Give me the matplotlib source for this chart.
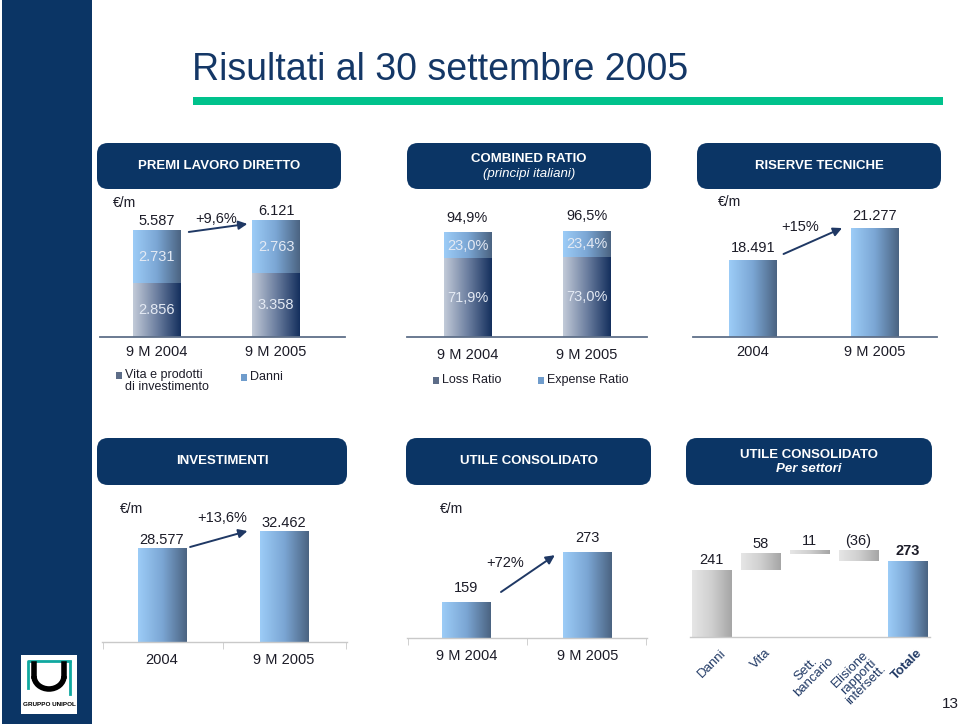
import numpy as np
import matplotlib
matplotlib.use('Agg')
import matplotlib.pyplot as plt
from matplotlib.colors import LinearSegmentedColormap
from matplotlib.patches import Rectangle, FancyBboxPatch, Arc

plt.rcParams['font.family'] = ['Liberation Sans', 'DejaVu Sans']

# ---- data ----
premi_labels = ['9 M 2004', '9 M 2005']
premi_vita = [2856, 3358]
premi_danni = [2731, 2763]
premi_total = [5587, 6121]
premi_growth = '+9,6%'

cr_labels = ['9 M 2004', '9 M 2005']
cr_loss = [71.9, 73.0]
cr_expense = [23.0, 23.4]
cr_total = [94.9, 96.5]

ris_labels = ['2004', '9 M 2005']
ris_values = [18491, 21277]
ris_growth = '+15%'

inv_labels = ['2004', '9 M 2005']
inv_values = [28577, 32462]
inv_growth = '+13,6%'

utile_labels = ['9 M 2004', '9 M 2005']
utile_values = [159, 273]
utile_growth = '+72%'

sett_labels = ['Danni', 'Vita', 'Sett.\nbancario', 'Elisione\nrapporti\nintersett.', 'Totale']
sett_values = [241, 58, 11, -36]
sett_total = 273

# ---- styling ----
W, H = 960, 724
NAVY = '#0b3565'
TXT = '#1c1c28'
ARROW = '#1f3864'
cm_blue = LinearSegmentedColormap.from_list('blue', ['#9cccf7', '#7ba6d4', '#4b6482'])
cm_navy = LinearSegmentedColormap.from_list('navy', ['#c2cad8', '#6c7fa0', '#15305e'])
cm_gray = LinearSegmentedColormap.from_list('gray', ['#e6e6e6', '#cfcfcf', '#a6a6a6'])


def it_int(v):
    return f'{v:,}'.replace(',', '.')


def it_pct(v):
    return f'{v:.1f}%'.replace('.', ',')


fig = plt.figure(figsize=(9.6, 7.24), dpi=100)

# slide overlay in pixel coordinates
ov = fig.add_axes([0, 0, 1, 1])
ov.set_xlim(0, W)
ov.set_ylim(H, 0)
ov.axis('off')

ov.add_patch(Rectangle((2, 0), 90, H, fc=NAVY, ec='none'))
ov.text(192, 70, 'Risultati al 30 settembre 2005', fontsize=27,
        color='#143766', va='center', ha='left')
ov.add_patch(Rectangle((193, 97), 750, 8, fc='#00c28c', ec='none'))

headers = [
    (97, 143, 244, 46, 'PREMI LAVORO DIRETTO', None),
    (407, 143, 244, 46, 'COMBINED RATIO', '(principi italiani)'),
    (697, 143, 244, 46, 'RISERVE TECNICHE', None),
    (97, 438, 250, 47, 'INVESTIMENTI', None),
    (406, 438, 245, 47, 'UTILE CONSOLIDATO', None),
    (686, 438, 246, 47, 'UTILE CONSOLIDATO', 'Per settori'),
]
for x, y, w, h, t1, t2 in headers:
    ov.add_patch(FancyBboxPatch((x, y), w, h, boxstyle='round,pad=0,rounding_size=11',
                                fc=NAVY, ec='none'))
    if t2 is None:
        ov.text(x + w / 2, y + h / 2, t1, color='white', fontsize=9.5, weight='bold',
                ha='center', va='center')
    else:
        ov.text(x + w / 2, y + h / 2 - 7, t1, color='white', fontsize=9.5, weight='bold',
                ha='center', va='center')
        ov.text(x + w / 2, y + h / 2 + 8, t2, color='white', fontsize=9.5, style='italic',
                weight='bold' if t2 == 'Per settori' else 'normal', ha='center', va='center')

for x, y in [(113, 203), (718, 202), (120, 509), (440, 509)]:
    ov.text(x, y, '€/m', fontsize=10, color=TXT, va='center', ha='left')

# legends
leg = [(116, 375, '#5d6d88', 'Vita e prodotti\ndi investimento'),
       (241, 377, '#6f9ccc', 'Danni'),
       (433, 380, '#5d6d88', 'Loss Ratio'),
       (538, 380, '#6f9ccc', 'Expense Ratio')]
for x, y, c, t in leg:
    ov.add_patch(Rectangle((x, y - 3.5), 6, 7, fc=c, ec='none'))
    ov.text(x + 9, y if '\n' not in t else y + 6, t, fontsize=9, color=TXT,
            va='center', ha='left', linespacing=0.95)

ov.text(950, 704, '13', fontsize=11, color=TXT, ha='center', va='center')

# logo
ov.add_patch(Rectangle((21, 655), 56, 59, fc='white', ec='none'))
ov.plot([28, 28, 70], [688, 661, 661], color='#10a8a0', lw=2)
ov.plot([70, 70], [662, 694], color='#10a8a0', lw=2)
ov.add_patch(Arc((49, 676), 30, 26, theta1=0, theta2=180, color='black', lw=4))
ov.plot([34, 34], [664, 676], color='black', lw=4)
ov.plot([64, 64], [664, 676], color='black', lw=4)
ov.text(49, 705, 'GRUPPO UNIPOL', fontsize=4.6, weight='bold', ha='center', va='center')


def grad_bar(ax, x, bottom, height, width, cmap):
    g = np.linspace(0, 1, 100).reshape(1, -1)
    ax.imshow(g, extent=(x - width / 2, x + width / 2, bottom, bottom + height),
              cmap=cmap, aspect='auto', origin='lower', zorder=2, interpolation='bilinear')


def chart_ax(x0, x1, ybase, ytop, xlim, ylim, light=False):
    ax = fig.add_axes([x0 / W, 1 - ybase / H, (x1 - x0) / W, (ybase - ytop) / H])
    ax.patch.set_visible(False)
    for s in ['top', 'right', 'left']:
        ax.spines[s].set_visible(False)
    ax.set_yticks([])
    ax.set_xlim(xlim)
    ax.set_ylim(ylim)
    if light:
        ax.spines['bottom'].set_color('#c9c9c9')
        ax.spines['bottom'].set_linewidth(1)
        ax.set_xticks([xlim[0] + 0.01, 0.5, xlim[1] - 0.01], minor=True)
        ax.tick_params(axis='x', which='minor', length=5, color='#c9c9c9')
    else:
        ax.spines['bottom'].set_color('#5f7089')
        ax.spines['bottom'].set_linewidth(1.3)
    ax.tick_params(axis='x', which='major', length=0, labelsize=10.5, labelcolor=TXT)
    return ax


def arrow(ax, p0, p1):
    ax.annotate('', xy=p1, xytext=p0,
                arrowprops=dict(arrowstyle='-|>', color=ARROW, lw=1.4, mutation_scale=13,
                                shrinkA=0, shrinkB=0))


# ---- PREMI LAVORO DIRETTO ----
ax1 = chart_ax(100, 345, 337, 195, (-0.473, 1.577), (0, 7455))
bw = 0.40
for i in range(2):
    grad_bar(ax1, i, 0, premi_vita[i], bw, cm_navy)
    grad_bar(ax1, i, premi_vita[i], premi_danni[i], bw, cm_blue)
    ax1.text(i, premi_vita[i] / 2, it_int(premi_vita[i]), color='#e4eaf4', fontsize=10.5,
             ha='center', va='center', zorder=3)
    ax1.text(i, premi_vita[i] + premi_danni[i] / 2, it_int(premi_danni[i]), color='#e4eaf4',
             fontsize=10.5, ha='center', va='center', zorder=3)
    ax1.annotate(it_int(premi_total[i]), (i, premi_total[i]), xytext=(0, 2),
                 textcoords='offset points', ha='center', va='bottom', fontsize=10.5, color=TXT)
ax1.set_xticks(range(2), premi_labels)
ax1.tick_params(axis='x', pad=6)
arrow(ax1, (0.27, premi_total[0] * 0.987), (0.76, premi_total[1] * 0.97))
ax1.text(0.5, premi_total[1] * 1.012, premi_growth, fontsize=10.5, color=TXT,
         ha='center', va='center')

# ---- COMBINED RATIO ----
ax2 = chart_ax(407, 647, 337, 195, (-0.506, 1.502), (0, 129.6))
for i in range(2):
    grad_bar(ax2, i, 0, cr_loss[i], bw, cm_navy)
    grad_bar(ax2, i, cr_loss[i], cr_expense[i], bw, cm_blue)
    ax2.text(i, cr_loss[i] / 2, it_pct(cr_loss[i]), color='#e4eaf4', fontsize=10.5,
             ha='center', va='center', zorder=3)
    ax2.text(i, cr_loss[i] + cr_expense[i] / 2, it_pct(cr_expense[i]), color='#e4eaf4',
             fontsize=10.5, ha='center', va='center', zorder=3)
    ax2.annotate(it_pct(cr_total[i]), (i, cr_loss[i] + cr_expense[i]), xytext=(0, 6),
                 textcoords='offset points', ha='center', va='bottom', fontsize=10.5, color=TXT)
ax2.set_xticks(range(2), cr_labels)
ax2.tick_params(axis='x', pad=8)

# ---- RISERVE TECNICHE ----
ax3 = chart_ax(693, 937, 337, 195, (-0.492, 1.508), (11800, 24154))
for i in range(2):
    grad_bar(ax3, i, 11800, ris_values[i] - 11800, 0.39, cm_blue)
    ax3.annotate(it_int(ris_values[i]), (i, ris_values[i]), xytext=(0, 4),
                 textcoords='offset points', ha='center', va='bottom', fontsize=10.5, color=TXT)
ax3.set_xticks(range(2), ris_labels)
ax3.tick_params(axis='x', pad=6)
arrow(ax3, (0.25, ris_values[0] + 530), (0.73, ris_values[1]))
ax3.text(0.385, ris_values[1] + 100, ris_growth, fontsize=10.5, color=TXT, ha='center', va='center')

# ---- INVESTIMENTI ----
ax4 = chart_ax(102, 347, 642, 500, (-0.492, 1.516), (7300, 39747), light=True)
for i in range(2):
    grad_bar(ax4, i, 7300, inv_values[i] - 7300, 0.40, cm_blue)
    ax4.annotate(it_int(inv_values[i]), (i, inv_values[i]), xytext=(0, 1),
                 textcoords='offset points', ha='center', va='bottom', fontsize=10.5, color=TXT)
ax4.set_xticks(range(2), inv_labels)
ax4.tick_params(axis='x', pad=8)
arrow(ax4, (0.23, inv_values[0] + 430), (0.70, inv_values[1] + 200))
ax4.text(0.49, inv_values[1] + 3170, inv_growth, fontsize=10.5, color=TXT, ha='center', va='center')

# ---- UTILE CONSOLIDATO ----
ax5 = chart_ax(407, 647, 638, 500, (-0.492, 1.492), (77, 392), light=True)
for i in range(2):
    grad_bar(ax5, i, 77, utile_values[i] - 77, 0.405, cm_blue)
    ax5.annotate(str(utile_values[i]), (i, utile_values[i]), xytext=(0, 5),
                 textcoords='offset points', ha='center', va='bottom', fontsize=10.5, color=TXT)
ax5.set_xticks(range(2), utile_labels)
ax5.tick_params(axis='x', pad=8)
arrow(ax5, (0.285, utile_values[0] + 23), (0.73, utile_values[1] - 7))
ax5.text(0.32, 248, utile_growth, fontsize=10.5, color=TXT, ha='center', va='center')

# ---- UTILE CONSOLIDATO per settori (waterfall) ----
ax6 = chart_ax(690, 930, 637, 500, (-0.439, 4.459), (0, 493))
ax6.spines['bottom'].set_color('#c9c9c9')
ax6.spines['bottom'].set_linewidth(1)
run = 0
for i, v in enumerate(sett_values):
    grad_bar(ax6, i, run, v, 0.8, cm_gray)
    top = max(run, run + v)
    lab = str(v) if v >= 0 else f'({-v})'
    ax6.annotate(lab, (i, top), xytext=(0, 2), textcoords='offset points',
                 ha='center', va='bottom', fontsize=10.5, color=TXT)
    run += v
grad_bar(ax6, 4, 0, sett_total, 0.8, cm_blue)
ax6.annotate(str(sett_total), (4, sett_total), xytext=(0, 2), textcoords='offset points',
             ha='center', va='bottom', fontsize=10.5, color=TXT, weight='bold')
ax6.set_xticks(range(5), sett_labels, rotation=45, ha='center', multialignment='center',
               linespacing=0.9)
ax6.tick_params(axis='x', pad=7, labelsize=9.5, labelcolor='#1f3864')
ax6.get_xticklabels()[-1].set_weight('bold')

fig.savefig('out.png', dpi=100)
